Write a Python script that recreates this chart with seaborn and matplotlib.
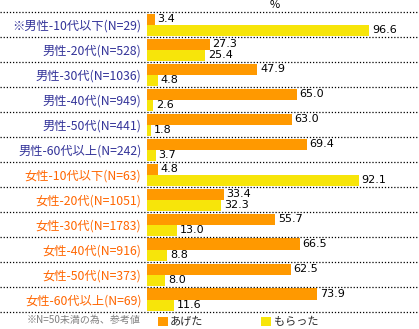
import matplotlib
matplotlib.use("Agg")
import matplotlib.pyplot as plt
import seaborn as sns
import pandas as pd

groups = [
    "※男性-10代以下(N=29)", "男性-20代(N=528)", "男性-30代(N=1036)",
    "男性-40代(N=949)", "男性-50代(N=441)", "男性-60代以上(N=242)",
    "女性-10代以下(N=63)", "女性-20代(N=1051)", "女性-30代(N=1783)",
    "女性-40代(N=916)", "女性-50代(N=373)", "女性-60代以上(N=69)",
]
gave = [3.4, 27.3, 47.9, 65.0, 63.0, 69.4, 4.8, 33.4, 55.7, 66.5, 62.5, 73.9]
received = [96.6, 25.4, 4.8, 2.6, 1.8, 3.7, 92.1, 32.3, 13.0, 8.8, 8.0, 11.6]
series = ["あげた", "もらった"]
label_colors = ["#333399"] * 6 + ["#FF6600"] * 6
palette = {"あげた": "#FF9900", "もらった": "#F7E50A"}

df = pd.DataFrame({
    "group": groups * 2,
    "value": gave + received,
    "type": [series[0]] * len(groups) + [series[1]] * len(groups),
})

sns.set_style("white")
plt.rcParams["font.family"] = ["Noto Sans CJK JP", "DejaVu Sans"]

W, H = 419, 329
fig = plt.figure(figsize=(W / 100, H / 100), dpi=100)
left_px, top_px, bottom_px = 147, 12, 312
ax = fig.add_axes([left_px / W, 1 - bottom_px / H, (W - left_px) / W, (bottom_px - top_px) / H])

sns.barplot(data=df, y="group", x="value", hue="type", orient="h",
            palette=palette, width=0.88, saturation=1, ax=ax, legend=True,
            linewidth=0)

ax.set_xlim(0, (W - left_px) / 2.3)
ax.set_ylim(len(groups) - 0.5, -0.5)
ax.set_xlabel("")
ax.set_ylabel("")
ax.set_xticks([])
for s in ax.spines.values():
    s.set_visible(False)

ax.tick_params(axis="y", length=0, pad=4, labelsize=8.8)
for lbl, c in zip(ax.get_yticklabels(), label_colors):
    lbl.set_color(c)

# value labels at the end of each bar
for cont in ax.containers:
    ax.bar_label(cont, fmt="%.1f", padding=2, fontsize=8,
                 family=["DejaVu Sans"], color="black")

# dotted row separators spanning the full width
for i in range(len(groups) + 1):
    ax.axhline(i - 0.5, xmin=-left_px / (W - left_px), xmax=1, color="black",
               linestyle=(0, (1, 1.5)), linewidth=0.9, clip_on=False)

handles, labels = ax.get_legend_handles_labels()
ax.legend(handles, labels, loc="center left", bbox_to_anchor=(158 / W, 1 - 322 / H),
          bbox_transform=fig.transFigure, ncol=2, frameon=False, fontsize=8,
          handlelength=0.9, handleheight=0.9, handletextpad=0.2,
          columnspacing=5.2, borderpad=0, borderaxespad=0)

fig.text(140 / W, 1 - 320 / H, "※N=50未満の為、参考値", ha="right", va="center",
         fontsize=7.2, color="#808080")
fig.text(275 / W, 1 - 5 / H, "%", ha="center", va="center", fontsize=8, color="black")

fig.savefig("out.png", dpi=100)
